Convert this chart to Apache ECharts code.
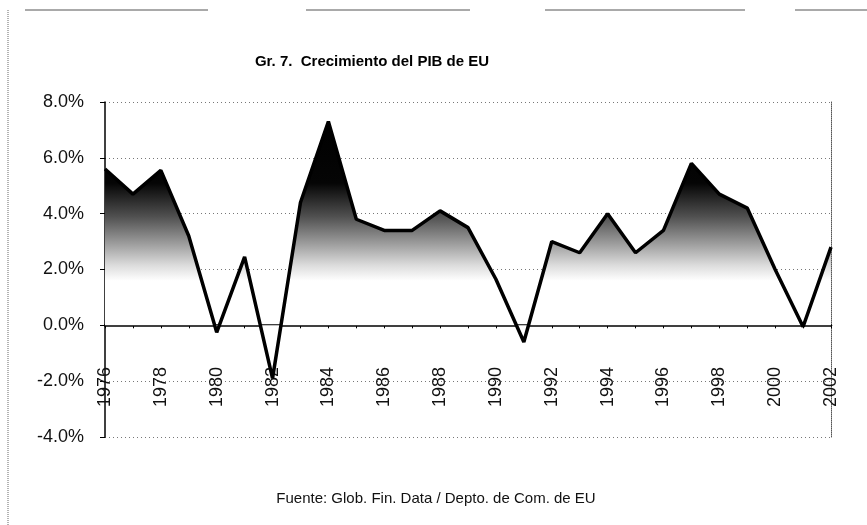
<!DOCTYPE html>
<html>
<head>
<meta charset="utf-8">
<script src="https://cdn.jsdelivr.net/npm/echarts@6/dist/echarts.min.js"></script>
<style>
  html, body { margin: 0; padding: 0; background: #fff; }
  #main { width: 867px; height: 525px; }
</style>
</head>
<body>
<div id="main"></div>
<script>
// crecimiento anual del PIB (%)
const years = ['1976', '1977', '1978', '1979', '1980', '1981', '1982', '1983', '1984',
  '1985', '1986', '1987', '1988', '1989', '1990', '1991', '1992', '1993', '1994',
  '1995', '1996', '1997', '1998', '1999', '2000', '2001', '2002']
const pib = [5.6, 4.7, 5.55, 3.2, -0.25, 2.45, -1.9, 4.4, 7.3,
  3.8, 3.4, 3.4, 4.1, 3.5, 1.65, -0.6, 3.0, 2.6, 4.0,
  2.6, 3.4, 5.8, 4.7, 4.2, 2.0, -0.05, 2.8]

const chart = echarts.init(document.getElementById('main'))
const font = 'Liberation Sans, Arial, sans-serif'

chart.setOption({
  animation: false,
  backgroundColor: '#fff',
  title: [{
    text: 'Gr. 7.  Crecimiento del PIB de EU',
    left: 367, top: 49, textAlign: 'center',
    textStyle: { fontFamily: font, fontSize: 15, fontWeight: 'bold', color: '#000' }
  }, {
    text: 'Fuente: Glob. Fin. Data / Depto. de Com. de EU',
    left: 431, top: 486, textAlign: 'center',
    textStyle: { fontFamily: font, fontSize: 15, fontWeight: 'normal', color: '#111' }
  }],
  grid: { left: 105, right: 36, top: 102, bottom: 88 },
  xAxis: {
    type: 'category',
    data: years,
    boundaryGap: false,
    axisLine: { onZero: true, lineStyle: { color: '#000', width: 2.5 } },
    axisTick: { show: true, length: 3, interval: 0, lineStyle: { color: '#000' } },
    axisLabel: {
      // las etiquetas van justo debajo de la línea del 0%
      interval: 1, rotate: 90, margin: -70,
      fontFamily: font, fontSize: 18, color: '#111'
    },
    splitLine: { show: false }
  },
  yAxis: [{
    type: 'value',
    min: -4, max: 8, interval: 2,
    axisLine: { show: true, onZero: false, lineStyle: { color: '#000', width: 1.5 } },
    axisTick: { show: true, length: 5, lineStyle: { color: '#000' } },
    axisLabel: {
      margin: 21, fontFamily: font, fontSize: 18, color: '#111',
      formatter: v => v.toFixed(1) + '%'
    },
    splitLine: { show: true, lineStyle: { color: '#777', type: [1, 3], width: 1 } }
  }, {
    type: 'value',
    position: 'right',
    min: -4, max: 8, interval: 2,
    axisLine: { show: true, onZero: false, lineStyle: { color: '#555', type: [1, 1], width: 1 } },
    axisTick: { show: false },
    axisLabel: { show: false },
    splitLine: { show: false }
  }],
  series: [{
    type: 'line',
    data: pib,
    symbol: 'none',
    lineStyle: { color: '#000', width: 3.5 },
    areaStyle: {
      origin: 0,
      color: {
        type: 'linear', x: 0, y: 0, x2: 0, y2: 1,
        colorStops: [
          { offset: 0, color: '#000' },
          { offset: 0.24, color: '#050505' },
          { offset: 0.37, color: '#505050' },
          { offset: 0.48, color: '#a0a0a0' },
          { offset: 0.56, color: '#dcdcdc' },
          { offset: 0.62, color: '#fff' },
          { offset: 1, color: '#fff' }
        ]
      },
      opacity: 1
    }
  }],
  graphic: [
    // marco exterior de la página escaneada
    { type: 'line', shape: { x1: 8, y1: 10, x2: 8, y2: 525 }, style: { stroke: '#666', lineWidth: 1, lineDash: [1, 1] } },
    { type: 'line', shape: { x1: 25, y1: 10, x2: 208, y2: 10 }, style: { stroke: '#555', lineWidth: 1 } },
    { type: 'line', shape: { x1: 306, y1: 10, x2: 470, y2: 10 }, style: { stroke: '#555', lineWidth: 1 } },
    { type: 'line', shape: { x1: 545, y1: 10, x2: 745, y2: 10 }, style: { stroke: '#555', lineWidth: 1 } },
    { type: 'line', shape: { x1: 795, y1: 10, x2: 867, y2: 10 }, style: { stroke: '#555', lineWidth: 1 } }
  ]
})
</script>
</body>
</html>
